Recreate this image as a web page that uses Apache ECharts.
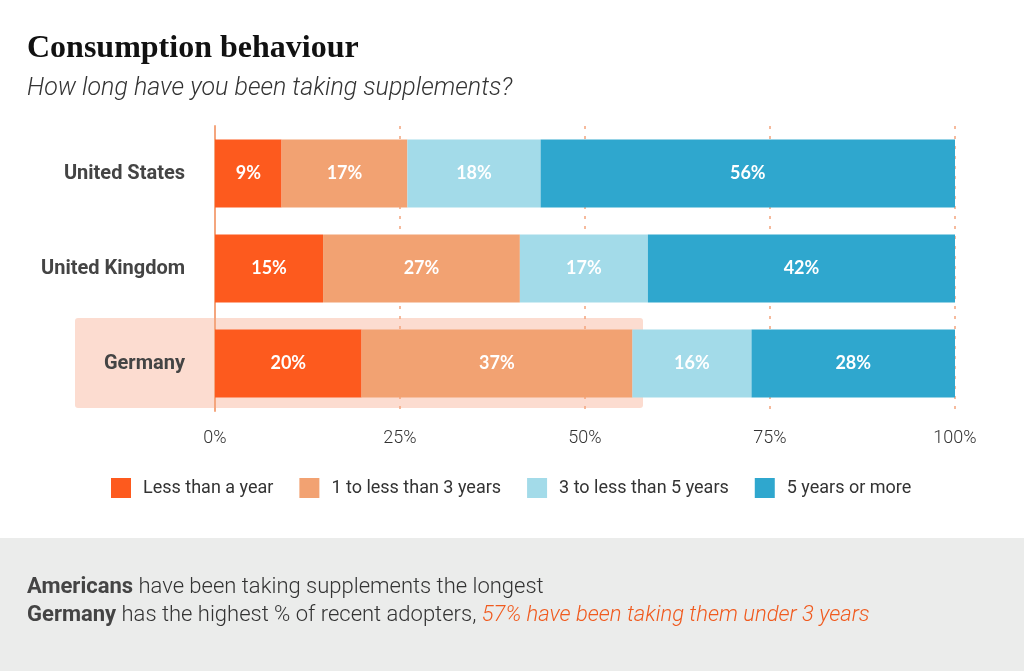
<!DOCTYPE html>
<html>
<head>
<meta charset="utf-8">
<script src="https://cdn.jsdelivr.net/npm/echarts@6/dist/echarts.min.js"></script>
<style>
html, body { margin: 0; padding: 0; background: #fff; }
#chart { width: 1024px; height: 671px; }
</style>
</head>
<body>
<div id="chart"></div>
<script>
// data (bars sum to 100, labels are rounded)
const countries = ["United States", "United Kingdom", "Germany"];
const lessThanYear = [9, 14.6, 19.8];
const oneToThree = [17, 26.6, 36.6];
const threeToFive = [18, 17.3, 16.1];
const fiveOrMore = [56, 41.5, 27.5];
const seriesNames = ["Less than a year", "1 to less than 3 years", "3 to less than 5 years", "5 years or more"];
const seriesColors = ["#fd5a1e", "#f2a272", "#a3dbe9", "#2fa7ce"];
const xTicks = [0, 25, 50, 75, 100];

const seriesData = [lessThanYear, oneToThree, threeToFive, fiveOrMore];
const textFont = "Roboto, 'Liberation Sans', sans-serif";

const chart = echarts.init(document.getElementById("chart"));

const series = seriesNames.map(function (name, i) {
    return {
        name: name,
        type: 'bar',
        stack: 'total',
        barWidth: 68,
        data: seriesData[i],
        itemStyle: { color: seriesColors[i] },
        label: {
            show: true,
            position: 'inside',
            formatter: function (p) { return Math.round(p.value) + '%'; },
            color: '#fff',
            fontSize: 18,
            fontWeight: 'bold',
            fontFamily: "Lato, 'Open Sans', sans-serif"
        }
    };
});

const option = {
    backgroundColor: '#fff',
    animation: false,
    title: [{
        text: 'Consumption behaviour',
        subtext: 'How long have you been taking supplements?',
        left: 22,
        top: 28,
        itemGap: 11,
        textStyle: {
            fontFamily: "'Liberation Serif', 'DejaVu Serif', serif",
            fontWeight: 'bold',
            fontSize: 32,
            color: '#111'
        },
        subtextStyle: {
            fontFamily: textFont,
            fontStyle: 'italic',
            fontWeight: 300,
            fontSize: 25,
            color: '#333'
        }
    }, {
        text: '{b|Americans} have been taking supplements the longest\n{b|Germany} has the highest % of recent adopters, {o|57% have been taking them under 3 years}',
        left: 22,
        top: 568,
        textStyle: {
            fontFamily: textFont,
            fontWeight: 300,
            fontSize: 22,
            lineHeight: 28,
            color: '#333',
            rich: {
                b: { fontFamily: textFont, fontWeight: 'bold', fontSize: 22, lineHeight: 28, color: '#444' },
                o: { fontFamily: textFont, fontStyle: 'italic', fontWeight: 300, fontSize: 22, lineHeight: 28, color: '#f05a1e' }
            }
        }
    }],
    graphic: [{
        type: 'rect',
        z: -10,
        silent: true,
        shape: { x: 0, y: 538, width: 1024, height: 133 },
        style: { fill: '#ebeceb' }
    }, {
        // highlight behind the Germany row
        type: 'rect',
        z: -10,
        silent: true,
        shape: { x: 75, y: 318, width: 568, height: 90, r: 3 },
        style: { fill: '#fcdcd0' }
    }],
    legend: {
        left: 106,
        top: 473,
        icon: 'rect',
        itemWidth: 20,
        itemHeight: 20,
        itemGap: 26,
        data: seriesNames,
        textStyle: {
            fontFamily: textFont,
            fontSize: 18,
            color: '#333',
            padding: [0, 0, 0, 7]
        }
    },
    grid: { left: 215, right: 69, top: 126, bottom: 260 },
    xAxis: {
        type: 'value',
        min: xTicks[0],
        max: xTicks[xTicks.length - 1],
        interval: xTicks[1] - xTicks[0],
        axisLine: { show: false },
        axisTick: { show: false },
        splitLine: {
            show: true,
            lineStyle: { color: '#f4a47c', width: 1.5, type: [3, 7] }
        },
        axisLabel: {
            margin: 18,
            fontFamily: textFont,
            fontWeight: 300,
            fontSize: 18,
            color: '#333',
            formatter: function (v) { return v + '%'; }
        }
    },
    yAxis: {
        type: 'category',
        inverse: true,
        data: countries,
        axisLine: { show: true, lineStyle: { color: '#f4a67e', width: 2 } },
        axisTick: { show: false },
        axisLabel: {
            margin: 30,
            fontFamily: textFont,
            fontWeight: 'bold',
            fontSize: 20,
            color: '#444'
        }
    },
    series: series
};
chart.setOption(option);
</script>
</body>
</html>
